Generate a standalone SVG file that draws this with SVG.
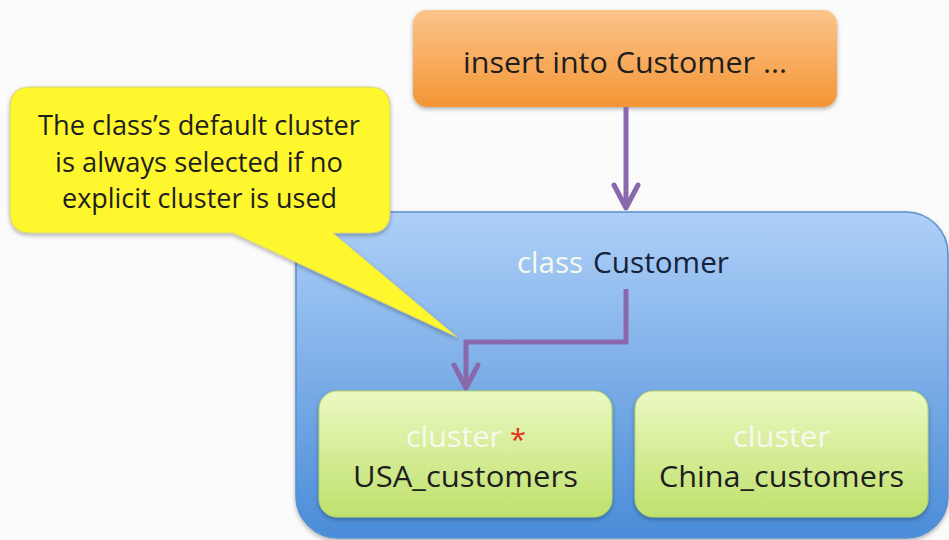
<svg xmlns="http://www.w3.org/2000/svg" width="949" height="540" viewBox="0 0 949 540">
  <style>
    .t { font-family: "Open Sans", "Liberation Sans", sans-serif; }
    .dark { fill: #1e1e1e; }
    .navy { fill: #16223a; }
    .white { fill: #f6faee; }
    .conn { fill: none; stroke: #8a68ac; stroke-width: 5; stroke-linejoin: miter; }
  </style>
  <defs>
    <linearGradient id="gOrange" x1="0" y1="0" x2="0" y2="1">
      <stop offset="0" stop-color="#fcc48c"/>
      <stop offset="1" stop-color="#f49535"/>
    </linearGradient>
    <linearGradient id="gBlue" x1="0" y1="0" x2="0" y2="1">
      <stop offset="0" stop-color="#aed0f8"/>
      <stop offset="1" stop-color="#4a8cd8"/>
    </linearGradient>
    <linearGradient id="gGreen" x1="0" y1="0" x2="0" y2="1">
      <stop offset="0" stop-color="#ebf9c2"/>
      <stop offset="1" stop-color="#bfe06c"/>
    </linearGradient>
    <filter id="shadow" x="-10%" y="-10%" width="120%" height="130%">
      <feDropShadow dx="0" dy="2" stdDeviation="2" flood-color="#000" flood-opacity="0.3"/>
    </filter>
    <marker id="vhead" viewBox="-26 -15 30 30" refX="0" refY="0" markerWidth="30" markerHeight="30" markerUnits="userSpaceOnUse" orient="auto">
      <path d="M -23 -12 L 0 0 L -23 12" fill="none" stroke="#8a68ac" stroke-width="5" stroke-linejoin="round" stroke-linecap="round"/>
    </marker>
  </defs>

  <rect x="0" y="0" width="949" height="540" fill="#fbfbfb"/>

  <g id="class-customer">
    <rect x="296" y="212" width="652" height="326" rx="42" ry="42" fill="url(#gBlue)" stroke="#5a8fcf" stroke-width="1.5" filter="url(#shadow)"/>
    <text class="t" font-size="29" y="273"><tspan class="white" x="517" textLength="66" lengthAdjust="spacingAndGlyphs">class</tspan><tspan class="navy" x="593" textLength="136" lengthAdjust="spacingAndGlyphs">Customer</tspan></text>
  </g>

  <g id="insert-node">
    <rect x="413" y="10" width="424" height="97" rx="14" ry="14" fill="url(#gOrange)" filter="url(#shadow)"/>
    <text class="t dark" font-size="29" x="463" y="73" textLength="324" lengthAdjust="spacingAndGlyphs">insert into Customer ...</text>
  </g>

  <g id="usa-cluster">
    <rect x="319" y="391" width="293" height="126" rx="18" ry="18" fill="url(#gGreen)" stroke="#b2d46a" stroke-width="1" filter="url(#shadow)"/>
    <text class="t white" font-size="29" x="406" y="447" textLength="96" lengthAdjust="spacingAndGlyphs">cluster</text>
    <text class="t" font-size="29" x="510" y="450" fill="#e0321e">*</text>
    <text class="t dark" font-size="29" x="353" y="487" textLength="225" lengthAdjust="spacingAndGlyphs">USA_customers</text>
  </g>

  <g id="china-cluster">
    <rect x="635" y="391" width="293" height="126" rx="18" ry="18" fill="url(#gGreen)" stroke="#b2d46a" stroke-width="1" filter="url(#shadow)"/>
    <text class="t white" font-size="29" x="733" y="447" textLength="97" lengthAdjust="spacingAndGlyphs">cluster</text>
    <text class="t dark" font-size="29" x="659" y="487" textLength="245" lengthAdjust="spacingAndGlyphs">China_customers</text>
  </g>

  <g id="connectors">
    <path class="conn" d="M 626 107 L 626 208" marker-end="url(#vhead)"/>
    <path class="conn" d="M 626 289 L 626 342 L 466 342 L 466 388" marker-end="url(#vhead)"/>
  </g>

  <g id="callout">
    <path d="M 30 87 H 370 Q 390 87 390 107 V 213 Q 390 233 370 233 H 333 L 457 337 L 233 233 H 30 Q 10 233 10 213 V 107 Q 10 87 30 87 Z" fill="#fff72e" stroke="#d6d27a" stroke-width="1" filter="url(#shadow)"/>
    <text class="t dark" font-size="26.5" x="38" y="135" textLength="322" lengthAdjust="spacingAndGlyphs">The class’s default cluster</text>
    <text class="t dark" font-size="26.5" x="55" y="172" textLength="288" lengthAdjust="spacingAndGlyphs">is always selected if no</text>
    <text class="t dark" font-size="26.5" x="62" y="208" textLength="275" lengthAdjust="spacingAndGlyphs">explicit cluster is used</text>
  </g>
</svg>
